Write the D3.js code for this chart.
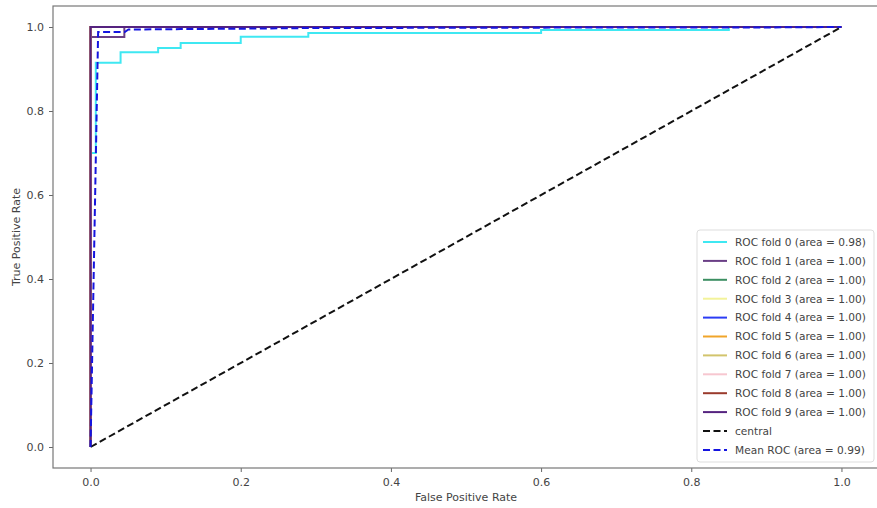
<!DOCTYPE html>
<html><head><meta charset="utf-8">
<script src="https://cdn.jsdelivr.net/npm/d3@7"></script>
<style>body{margin:0;background:#fff}svg{display:block}text{font-family:"DejaVu Sans",sans-serif}</style>
</head><body><svg id="c" width="877" height="508"></svg>
<script>
const xTicks = [0, 0.2, 0.4, 0.6, 0.8, 1.0];
const yTicks = [0, 0.2, 0.4, 0.6, 0.8, 1.0];
const foldNames = ["ROC fold 0 (area = 0.98)","ROC fold 1 (area = 1.00)","ROC fold 2 (area = 1.00)","ROC fold 3 (area = 1.00)","ROC fold 4 (area = 1.00)","ROC fold 5 (area = 1.00)","ROC fold 6 (area = 1.00)","ROC fold 7 (area = 1.00)","ROC fold 8 (area = 1.00)","ROC fold 9 (area = 1.00)"];
const foldColors = ["#3fe8f2","#6a3f86","#3c8f62","#f3f39a","#2b3cf5","#f0a52a","#d2c46c","#f7c7d0","#9a3a2c","#55237f"];
const fold0 = [[0,0],[0,0.70],[0.007,0.70],[0.007,0.915],[0.04,0.915],[0.04,0.94],[0.09,0.94],[0.09,0.95],[0.12,0.95],[0.12,0.962],[0.2,0.962],[0.2,0.977],[0.29,0.977],[0.29,0.986],[0.6,0.986],[0.6,0.993],[0.85,0.993],[0.85,1],[1,1]];
const fold1 = [[0,0],[0,0.976],[0.045,0.976],[0.045,1],[1,1]];
const perfectFold = [[0,0],[0,1],[1,1]];
const folds = [fold0, fold1, perfectFold, perfectFold, perfectFold, perfectFold, perfectFold, perfectFold, perfectFold, perfectFold];
const central = [[0,0],[1,1]];
const meanRoc = [[0,0],[0.0101,0.988],[0.0455,0.988],[0.0505,0.994],[0.12,0.995],[0.2,0.996],[0.29,0.9975],[0.6,0.9985],[0.9,0.999],[1,1]];
const legendLabels = foldNames.concat(["central","Mean ROC (area = 0.99)"]);

const svg = d3.select("#c");
const L = 53, R = 879, T = 6, B = 468;
const x = d3.scaleLinear().domain([-0.05, 1.05]).range([L, R]);
const y = d3.scaleLinear().domain([-0.05, 1.05]).range([B, T]);
const line = d3.line().x(d => x(d[0])).y(d => y(d[1]));

const g = svg.append("g");
svg.append("clipPath").attr("id","cp").append("rect").attr("x",L).attr("y",T).attr("width",R-L).attr("height",B-T);
const plot = g.append("g").attr("clip-path","url(#cp)");

folds.forEach((f, i) => {
  plot.append("path").datum(f).attr("d", line).attr("fill","none")
    .attr("stroke", foldColors[i]).attr("stroke-width", 2);
});
plot.append("path").datum(central).attr("d", line).attr("fill","none")
  .attr("stroke","#111").attr("stroke-width",2).attr("stroke-dasharray","7,3.5");
plot.append("path").datum(meanRoc).attr("d", line).attr("fill","none")
  .attr("stroke","#1515e0").attr("stroke-width",2).attr("stroke-dasharray","7,3.5");

const FS = "11px";
const xa = g.append("g").attr("transform",`translate(0,${B})`)
  .call(d3.axisBottom(x).tickValues(xTicks).tickFormat(d3.format(".1f")).tickSize(4).tickPadding(6));
const ya = g.append("g").attr("transform",`translate(${L},0)`)
  .call(d3.axisLeft(y).tickValues(yTicks).tickFormat(d3.format(".1f")).tickSize(4).tickPadding(5));
[xa, ya].forEach(a => {
  a.select(".domain").remove();
  a.selectAll("line").attr("stroke","#666");
  a.selectAll("text").attr("fill","#444").style("font-size",FS);
});
g.append("rect").attr("x",L).attr("y",T).attr("width",R-L).attr("height",B-T)
  .attr("fill","none").attr("stroke","#777").attr("stroke-width",1.2);

g.append("text").attr("x",466).attr("y",501).attr("text-anchor","middle")
  .attr("fill","#444").style("font-size",FS).text("False Positive Rate");
g.append("text").attr("transform",`translate(20,${(T+B)/2}) rotate(-90)`).attr("text-anchor","middle")
  .attr("fill","#444").style("font-size",FS).text("True Positive Rate");

// legend
const lg = g.append("g");
lg.append("rect").attr("x",697).attr("y",230).attr("width",177).attr("height",232).attr("rx",3)
  .attr("fill","#fff").attr("fill-opacity",0.85).attr("stroke","#ddd");
const legColors = foldColors.concat(["#111","#1515e0"]);
legendLabels.forEach((t, i) => {
  const yy = 242 + i * 18.9;
  const ln = lg.append("line").attr("x1",703).attr("x2",727).attr("y1",yy).attr("y2",yy)
    .attr("stroke",legColors[i]).attr("stroke-width",2);
  if (i >= 10) ln.attr("stroke-dasharray","7,3.5");
  lg.append("text").attr("x",735).attr("y",yy+3.8).attr("fill","#444").style("font-size","10.6px").text(t);
});
</script></body></html>
